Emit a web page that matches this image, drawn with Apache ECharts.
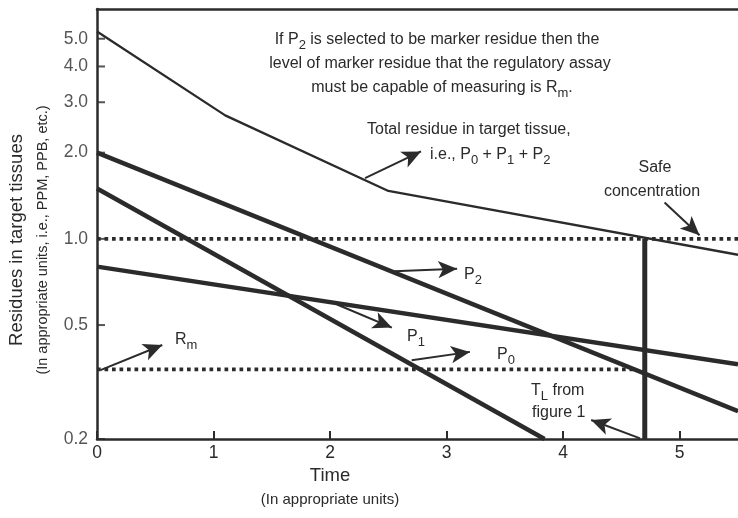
<!DOCTYPE html>
<html>
<head>
<meta charset="utf-8">
<script src="https://cdn.jsdelivr.net/npm/echarts@6/dist/echarts.min.js"></script>
<style>
html, body { margin: 0; padding: 0; background: #fff; }
#chart { width: 738px; height: 518px; }
</style>
</head>
<body>
<div id="chart"></div>
<script>
// 数据
var yTickValues = [0.2, 0.5, 1, 2, 3, 4, 5];   // y轴刻度 (对数)
var totalX = [0, 1.1, 2.5, 5.5];               // 总残留
var totalY = [5.3, 2.7, 1.47, 0.88];
var p2X = [0, 5.5];
var p2Y = [2.0, 0.25];
var p1X = [0, 3.84];
var p1Y = [1.5, 0.2];
var p0X = [0, 5.5];
var p0Y = [0.8, 0.365];
var safeLevel = 1.0;     // Safe concentration
var rmLevel = 0.35;      // R_m
var tL = 4.7;            // T_L
// 箭头 [x1, y1, x2, y2]
var arrows = [
    [2.30, 1.63, 2.78, 2.02],   // total
    [4.87, 1.34, 5.17, 1.03],   // safe
    [2.55, 0.77, 3.09, 0.786],  // P2
    [2.06, 0.59, 2.53, 0.49],   // P1
    [2.70, 0.377, 3.20, 0.403], // P0
    [0.03, 0.348, 0.56, 0.426], // Rm
    [4.66, 0.201, 4.24, 0.233]  // TL
];

var ink = '#2b2b2b';
var txt = '#2a2a2a';
var font = 'Liberation Sans';

function zip(xs, ys) {
    return xs.map(function (x, i) { return [x, ys[i]]; });
}

var rich = {
    t: { fontSize: 16, fontFamily: font, fill: txt },
    s: { fontSize: 13, fontFamily: font, fill: txt, padding: [10, 0, 0, 0] }
};

function label(text, x, y, align) {
    return {
        type: 'text', x: x, y: y, silent: true,
        style: { text: text, rich: rich, align: align || 'left', verticalAlign: 'middle', fill: txt, fontFamily: font, fontSize: 16 }
    };
}

var option = {
    animation: false,
    grid: { left: 97, right: 0, top: 9, bottom: 79 },
    xAxis: [{
        type: 'value', min: 0, max: 5.5, interval: 1,
        axisLine: { lineStyle: { color: ink, width: 2.5 } },
        axisTick: { inside: true, length: 8, lineStyle: { color: ink, width: 2 } },
        axisLabel: {
            color: txt, fontSize: 17.5, fontFamily: font, margin: 5, showMaxLabel: false,
            formatter: function (v) { return v % 1 === 0 ? String(v) : ''; }
        },
        splitLine: { show: false }
    }, {
        type: 'value', min: 0, max: 5.5, position: 'top',
        axisLine: { lineStyle: { color: ink, width: 2.5 } },
        axisTick: { show: false }, axisLabel: { show: false }, splitLine: { show: false }
    }],
    yAxis: {
        type: 'log', logBase: 10, min: 0.2, max: 6.35,
        axisLine: { show: true, lineStyle: { color: ink, width: 2.5 } },
        axisTick: { show: false }, axisLabel: { show: false }, splitLine: { show: false }
    },
    series: [
        {   // y轴刻度和标签
            type: 'scatter', clip: false, silent: true,
            data: yTickValues.map(function (v) { return [0, v]; }),
            symbol: 'rect', symbolSize: [8, 2], symbolOffset: [4, 0],
            itemStyle: { color: ink },
            label: {
                show: true, position: 'left', distance: 9, color: txt, fontSize: 17.5, fontFamily: font,
                formatter: function (p) { return p.value[1].toFixed(1); }
            }
        },
        { type: 'line', data: zip(totalX, totalY), symbol: 'none', lineStyle: { color: ink, width: 2.3 } },
        { type: 'line', data: zip(p2X, p2Y), symbol: 'none', lineStyle: { color: ink, width: 4.5 } },
        { type: 'line', data: zip(p1X, p1Y), symbol: 'none', lineStyle: { color: ink, width: 4.5 } },
        {
            type: 'line', data: zip(p0X, p0Y), symbol: 'none', lineStyle: { color: ink, width: 4.5 },
            markLine: {
                silent: true, symbol: ['none', 'arrow'], symbolSize: [13, 19],
                label: { show: false },
                lineStyle: { color: ink, width: 2, type: 'solid' },
                emphasis: { disabled: true },
                data: arrows.map(function (a) {
                    return [{ coord: [a[0], a[1]] }, { coord: [a[2], a[3]] }];
                })
            }
        },
        {
            type: 'line', data: [[0, safeLevel], [5.5, safeLevel]], symbol: 'none',
            lineStyle: { color: ink, width: 3.7, type: [3.7, 3.8], cap: 'butt' }
        },
        {
            type: 'line', data: [[0, rmLevel], [4.62, rmLevel]], symbol: 'none',
            lineStyle: { color: ink, width: 3.7, type: [3.7, 3.8], cap: 'butt' }
        },
        { type: 'line', data: [[tL, 0.2], [tL, safeLevel]], symbol: 'none', lineStyle: { color: ink, width: 5 } }
    ],
    graphic: [
        label('{t|If P}{s|2}{t| is selected to be marker residue then the}', 437, 40, 'center'),
        label('{t|level of marker residue that the regulatory assay}', 440, 64, 'center'),
        label('{t|must be capable of measuring is R}{s|m}{t|.}', 442, 88, 'center'),
        label('{t|Total residue in target tissue,}', 367, 130),
        label('{t|i.e., P}{s|0}{t| + P}{s|1}{t| + P}{s|2}', 430, 155),
        label('{t|Safe}', 655, 168, 'center'),
        label('{t|concentration}', 652, 192, 'center'),
        label('{t|P}{s|2}', 464, 275),
        label('{t|P}{s|1}', 407, 337),
        label('{t|P}{s|0}', 497, 355),
        label('{t|R}{s|m}', 175, 340),
        label('{t|T}{s|L}{t| from}', 531, 391),
        label('{t|figure 1}', 532, 413),
        {
            type: 'text', x: 17, y: 240, rotation: Math.PI / 2, silent: true,
            style: { text: 'Residues in target tissues', fill: txt, fontSize: 18.5, fontFamily: font, align: 'center', verticalAlign: 'middle' }
        },
        {
            type: 'text', x: 43, y: 240, rotation: Math.PI / 2, silent: true,
            style: { text: '(In appropriate units, i.e., PPM, PPB, etc.)', fill: txt, fontSize: 14.5, fontFamily: font, align: 'center', verticalAlign: 'middle' }
        },
        {
            type: 'text', x: 330, y: 476, silent: true,
            style: { text: 'Time', fill: txt, fontSize: 18.5, fontFamily: font, align: 'center', verticalAlign: 'middle' }
        },
        {
            type: 'text', x: 330, y: 500, silent: true,
            style: { text: '(In appropriate units)', fill: txt, fontSize: 15, fontFamily: font, align: 'center', verticalAlign: 'middle' }
        }
    ]
};

var myChart = echarts.init(document.getElementById('chart'));
myChart.setOption(option);
</script>
</body>
</html>
